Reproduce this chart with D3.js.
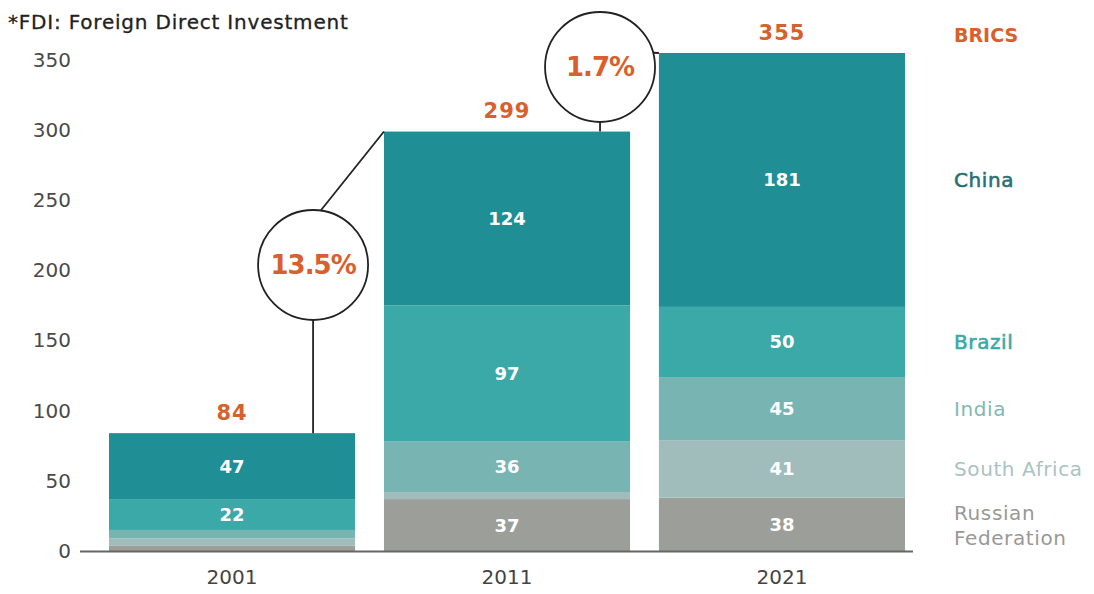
<!DOCTYPE html>
<html>
<head>
<meta charset="utf-8">
<script src="https://cdn.jsdelivr.net/npm/d3@7/dist/d3.min.js"></script>
<style>
  html, body { margin: 0; padding: 0; background: #fff; }
  svg { display: block; font-family: "DejaVu Sans", sans-serif; }
</style>
</head>
<body>
<svg id="chart" width="1094" height="594"></svg>
<script>
// FDI inflows to BRICS countries (US$ bn)
const years = ["2001", "2011", "2021"];
const seriesNames = ["Russian Federation", "South Africa", "India", "Brazil", "China"];
const russia      = [4, 37, 38];
const southAfrica = [5, 5, 41];
const india       = [6, 36, 45];
const brazil      = [22, 97, 50];
const china       = [47, 124, 181];
const totals      = [84, 299, 355];
const growthLabels = ["13.5%", "1.7%"];
const yTicks = [0, 50, 100, 150, 200, 250, 300, 350];

const colors = {
  "China": "#1f8f95",
  "Brazil": "#3aa9a8",
  "India": "#78b4b2",
  "South Africa": "#a0bdbc",
  "Russian Federation": "#9c9e9a"
};
const legendColors = {
  "BRICS": "#d8602c",
  "China": "#2b6f77",
  "Brazil": "#3aa9a8",
  "India": "#82b8b6",
  "South Africa": "#a9c3c1",
  "Russian Federation": "#979995"
};
const orange = "#d8602c";

const rows = years.map((yr, i) => ({
  year: yr,
  "Russian Federation": russia[i],
  "South Africa": southAfrica[i],
  "India": india[i],
  "Brazil": brazil[i],
  "China": china[i],
  total: totals[i]
}));

const svg = d3.select("#chart");

const x = d3.scaleBand().domain(years).range([109, 905]).paddingInner(0.105).paddingOuter(0);
const y = d3.scaleLinear().domain([0, 350]).range([551, 60]);

const stacked = d3.stack().keys(seriesNames)(rows);

// Title note
svg.append("text")
  .attr("x", 8).attr("y", 29)
  .attr("font-size", 20)
  .attr("fill", "#222").attr("stroke", "#222").attr("stroke-width", 0.3)
  .attr("letter-spacing", "0.8")
  .text("*FDI: Foreign Direct Investment");

// Y axis labels
const yAxis = d3.axisLeft(y).tickValues(yTicks).tickSize(0).tickPadding(0);
const gy = svg.append("g").attr("transform", "translate(71,0)").call(yAxis);
gy.select(".domain").remove();
gy.selectAll("text")
  .attr("font-size", 20).attr("fill", "#4a4a4a")
  .attr("font-family", "'DejaVu Sans', sans-serif");

// Bars
const layers = svg.append("g").selectAll("g").data(stacked).join("g")
  .attr("fill", d => colors[d.key]);
layers.selectAll("rect").data(d => d.map(v => ({ v, key: d.key }))).join("rect")
  .attr("x", d => x(d.v.data.year))
  .attr("width", x.bandwidth())
  .attr("y", d => y(d.v[1]))
  .attr("height", d => y(d.v[0]) - y(d.v[1]));

// Segment values (only where the segment is tall enough)
stacked.forEach(layer => {
  layer.forEach(v => {
    const val = v[1] - v[0];
    if (val < 15) return;
    svg.append("text")
      .attr("x", x(v.data.year) + x.bandwidth() / 2)
      .attr("y", (y(v[0]) + y(v[1])) / 2)
      .attr("dy", "0.36em")
      .attr("text-anchor", "middle")
      .attr("font-size", 18).attr("font-weight", 700)
      .attr("fill", "#ffffff")
      .text(val);
  });
});

// Baseline with zero tick
svg.append("line")
  .attr("x1", 80).attr("x2", 913)
  .attr("y1", y(0) + 0.5).attr("y2", y(0) + 0.5)
  .attr("stroke", "#666").attr("stroke-width", 2);

// X axis labels
const xAxis = d3.axisBottom(x).tickSize(0).tickPadding(0);
const gx = svg.append("g").attr("transform", "translate(0,570)").call(xAxis);
gx.select(".domain").remove();
gx.selectAll("text")
  .attr("font-size", 20).attr("fill", "#444")
  .attr("font-family", "'DejaVu Sans', sans-serif");

// Totals
rows.forEach(r => {
  svg.append("text")
    .attr("x", x(r.year) + x.bandwidth() / 2)
    .attr("y", y(r.total) - 21)
    .attr("dy", "0.36em")
    .attr("text-anchor", "middle")
    .attr("font-size", 21).attr("font-weight", 700)
    .attr("letter-spacing", "1")
    .attr("fill", orange)
    .text(r.total);
});

// Growth callouts: circle linked down to the earlier bar and across to the next bar
const callouts = [
  { from: 0, to: 1, dx: -42, cy: 265, r: 55, angle: -82 },
  { from: 1, to: 2, dx: -30, cy: 67, r: 55, angle: -15 }
];
const ann = svg.append("g");
callouts.forEach((c, i) => {
  const prev = rows[c.from], next = rows[c.to];
  const cx = x(prev.year) + x.bandwidth() + c.dx;
  const a = c.angle * Math.PI / 180;
  const sx = cx + c.r * Math.cos(a), sy = c.cy + c.r * Math.sin(a);
  ann.append("line")
    .attr("x1", cx).attr("y1", c.cy + c.r)
    .attr("x2", cx).attr("y2", y(prev.total))
    .attr("stroke", "#222").attr("stroke-width", 1.8);
  ann.append("line")
    .attr("x1", sx).attr("y1", sy)
    .attr("x2", x(next.year)).attr("y2", y(next.total))
    .attr("stroke", "#222").attr("stroke-width", 1.8);
  ann.append("circle")
    .attr("cx", cx).attr("cy", c.cy).attr("r", c.r)
    .attr("fill", "#fff").attr("stroke", "#222").attr("stroke-width", 1.8);
  ann.append("text")
    .attr("x", cx).attr("y", c.cy).attr("dy", "0.36em")
    .attr("text-anchor", "middle")
    .attr("font-size", 26).attr("font-weight", 700)
    .attr("letter-spacing", "-1")
    .attr("fill", orange)
    .text(growthLabels[i]);
});

// Series labels on the right, aligned with the 2021 segments
const lastStack = stacked.map(layer => ({ key: layer.key, v: layer[layer.length - 1] }));
const legendX = 954;
svg.append("text")
  .attr("x", legendX).attr("y", y(totals[totals.length - 1]) - 18)
  .attr("dy", "0.36em")
  .attr("font-size", 19).attr("font-weight", 700)
  .attr("fill", legendColors["BRICS"])
  .text("BRICS");
lastStack.forEach(s => {
  const mid = (y(s.v[0]) + y(s.v[1])) / 2;
  const words = s.key === "Russian Federation" ? ["Russian", "Federation"] : [s.key];
  const strong = s.key === "China" || s.key === "Brazil";
  const t = svg.append("text")
    .attr("x", legendX)
    .attr("y", mid - (words.length - 1) * 12)
    .attr("font-size", 20)
    .attr("fill", legendColors[s.key])
    .attr("stroke", strong ? legendColors[s.key] : "none")
    .attr("stroke-width", strong ? 0.6 : 0)
    .attr("letter-spacing", "0.6");
  words.forEach((w, j) => {
    t.append("tspan").attr("x", legendX).attr("dy", j === 0 ? "0.36em" : "1.25em").text(w);
  });
});
</script>
</body>
</html>
